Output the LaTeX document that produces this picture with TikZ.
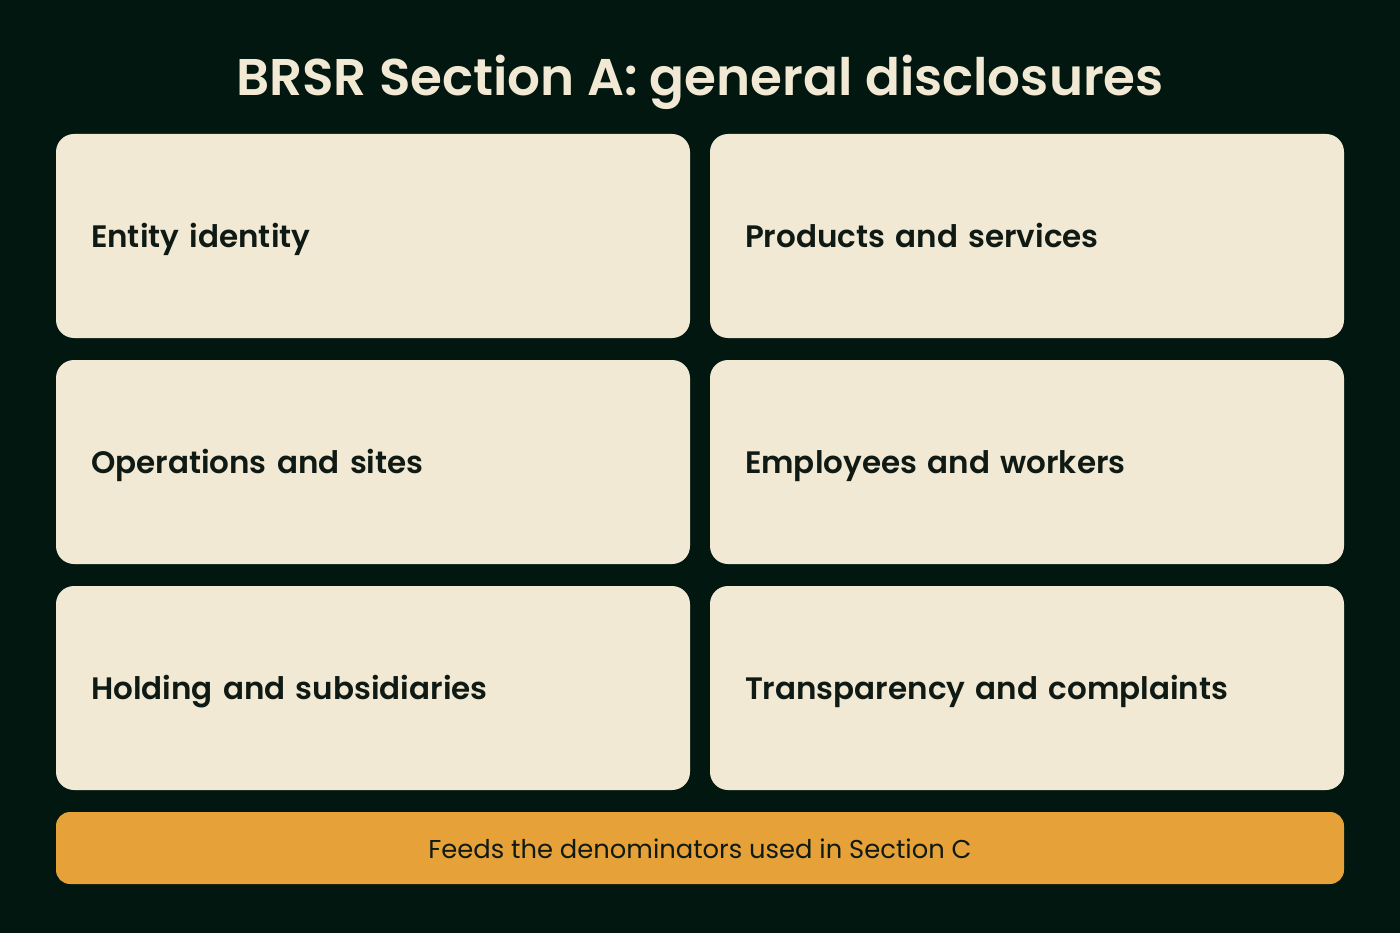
\documentclass[tikz,border=0pt]{standalone}
\usepackage{fontspec}
\setmainfont{Poppins}[BoldFont={Poppins SemiBold}]
\usetikzlibrary{positioning}
\definecolor{bgdark}{HTML}{021710}
\definecolor{cream}{HTML}{F2E9D5}
\definecolor{amber}{HTML}{E6A139}
\definecolor{inkdark}{HTML}{101A14}
\tikzstyle{card} = [rectangle, rounded corners=18pt, fill=cream, text=inkdark, outer sep=0pt, minimum width=634pt, minimum height=204pt, text width=564pt, inner xsep=35pt, text height=23pt, text depth=0pt, align=left, font=\fontsize{31}{36}\selectfont\bfseries]
\tikzstyle{bar} = [rectangle, rounded corners=14pt, fill=amber, text=inkdark, outer sep=0pt, minimum width=1288pt, minimum height=72pt, text height=20pt, text depth=0pt, font=\fontsize{25.8}{30}\selectfont]

\begin{document}
\begin{tikzpicture}[x=1pt, y=-1pt, node distance = 22pt and 20pt]
		\fill[bgdark] (0,0) rectangle (1400,933);
		\useasboundingbox (0,0) rectangle (1400,933);
		\node (Title) [text=cream, font=\fontsize{51.6}{60}\selectfont\bfseries] at (700,82) {BRSR Section A: general disclosures};
		\node (Entity) [card, anchor=north west] at (56,134) {Entity identity};
		\node (Products) [card, right = of Entity] {Products and services};
		\node (Operations) [card, below = of Entity] {Operations and sites};
		\node (Employees) [card, below = of Products] {Employees and workers};
		\node (Holding) [card, below = of Operations] {Holding and subsidiaries};
		\node (Transparency) [card, below = of Employees] {Transparency and complaints};
		\node (Feeds) [bar, below = of Holding.south west, anchor=north west] {Feeds the denominators used in Section C};
\end{tikzpicture}
\end{document}
